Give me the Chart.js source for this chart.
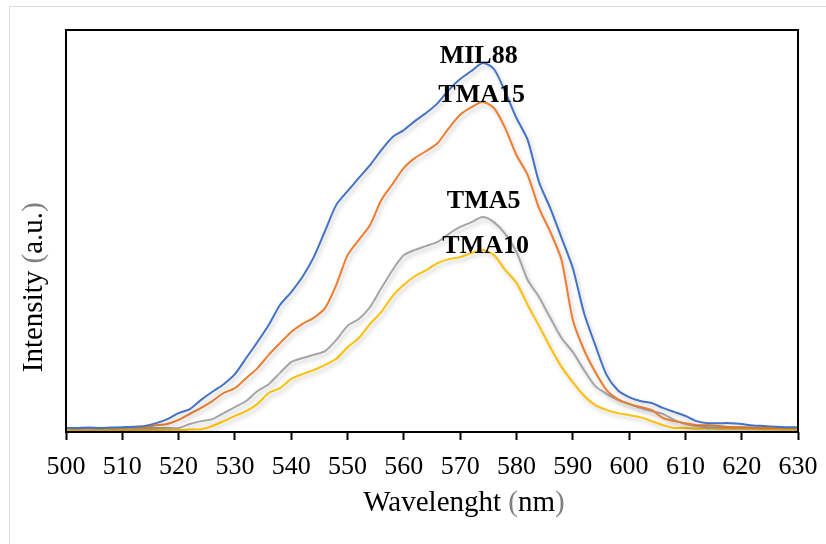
<!DOCTYPE html>
<html>
<head>
<meta charset="utf-8">
<script src="https://cdn.jsdelivr.net/npm/chart.js@4.4.1/dist/chart.umd.min.js"></script>
<style>
	html, body { margin: 0; padding: 0; background: #fff; }
	#wrap { position: relative; width: 826px; height: 544px; overflow: hidden; }
	#frame { position: absolute; left: 9px; top: 6px; width: 900px; height: 600px; border-left: 1.5px solid #dadada; border-top: 1.5px solid #dadada; }
	#chart { position: absolute; left: 0; top: 0; }
</style>
</head>
<body>
<div id="wrap">
	<div id="frame"></div>
	<canvas id="chart" width="826" height="544"></canvas>
</div>
<script>
/* global Chart */

// Longitudes de onda (nm)
const wavelengths = [
	500, 502, 504, 506, 508, 510, 512, 514, 516, 518,
	520, 522, 524, 526, 528, 530, 532, 534, 536, 538,
	540, 542, 544, 546, 548, 550, 552, 554, 556, 558,
	560, 562, 564, 566, 568, 570, 572, 574, 576, 578,
	580, 582, 584, 586, 588, 590, 592, 594, 596, 598,
	600, 602, 604, 606, 608, 610, 612, 614, 616, 618,
	620, 622, 624, 626, 628, 630
];

const mil88 = [
	1.0, 1.0, 1.1, 1.0, 1.1, 1.2, 1.3, 1.5, 2.2, 3.2,
	4.7, 5.7, 8.0, 10.0, 11.9, 14.4, 18.4, 22.4, 26.6, 31.6,
	34.8, 38.6, 43.5, 50.0, 56.5, 59.9, 63.2, 66.4, 70.1, 73.4,
	75.1, 77.4, 79.4, 81.8, 85.1, 87.8, 89.8, 91.8, 90.3, 84.6,
	78.1, 72.6, 62.2, 55.7, 48.3, 40.8, 29.6, 21.6, 14.2, 10.4,
	8.7, 7.7, 7.2, 6.0, 5.0, 4.0, 2.7, 2.2, 2.2, 2.2,
	2.0, 1.6, 1.5, 1.3, 1.2, 1.2
];

const tma15 = [
	1.0, 0.9, 1.0, 1.0, 1.0, 1.0, 1.2, 1.2, 1.7, 2.0,
	3.0, 4.5, 6.0, 7.7, 9.7, 10.9, 13.4, 15.9, 19.2, 22.1,
	24.9, 26.9, 28.4, 30.8, 36.6, 44.0, 47.8, 51.5, 57.7, 61.7,
	65.7, 68.2, 69.9, 71.9, 75.6, 78.9, 80.8, 82.1, 80.6, 75.6,
	68.9, 63.9, 55.7, 49.8, 42.8, 27.9, 20.4, 14.9, 10.4, 8.2,
	7.0, 6.2, 5.5, 3.5, 2.7, 2.2, 1.7, 1.7, 1.5, 1.2,
	1.2, 1.0, 1.0, 1.0, 1.0, 1.0
];

const tma5 = [
	0.9, 0.9, 0.8, 0.9, 0.9, 0.9, 1.0, 1.0, 1.0, 1.0,
	1.0, 2.0, 2.7, 3.2, 4.7, 6.2, 7.7, 10.2, 11.9, 14.7,
	17.4, 18.4, 19.2, 20.1, 22.9, 26.4, 28.1, 31.1, 35.8, 40.3,
	44.0, 45.3, 46.3, 47.3, 49.3, 51.0, 52.2, 53.5, 52.2, 49.3,
	44.8, 37.8, 33.6, 28.4, 23.4, 19.9, 15.4, 11.4, 9.5, 8.0,
	7.0, 6.0, 5.2, 4.5, 3.0, 2.0, 1.5, 1.2, 1.1, 1.1,
	1.1, 1.1, 1.1, 1.0, 1.0, 1.0
];

const tma10 = [
	0.5, 0.5, 0.4, 0.5, 0.5, 0.5, 0.5, 0.5, 0.5, 0.5,
	0.5, 0.6, 0.7, 1.5, 2.7, 4.0, 5.2, 7.0, 9.7, 10.9,
	13.2, 14.4, 15.4, 16.7, 18.2, 21.1, 23.4, 26.9, 29.9, 33.8,
	36.6, 38.8, 40.3, 42.0, 43.0, 43.5, 44.5, 45.3, 44.0, 40.3,
	37.1, 31.6, 26.4, 21.1, 16.2, 12.4, 9.0, 6.7, 5.5, 4.7,
	4.2, 3.7, 2.7, 1.7, 1.0, 1.0, 0.9, 0.9, 0.8, 0.8,
	0.8, 0.8, 0.7, 0.7, 0.6, 0.6
];

const seriesNames = ['MIL88', 'TMA15', 'TMA5', 'TMA10'];
const seriesValues = [mil88, tma15, tma5, tma10];
const seriesColors = ['#4472C4', '#ED7D31', '#A5A5A5', '#FFC000'];

const serif = "'Liberation Serif', 'Times New Roman', serif";

// Caja del área de gráfico, sombra de líneas, títulos y etiquetas
const decorations = {
	id: 'decorations',
	beforeDatasetsDraw(chart) {
		const ctx = chart.ctx;
		ctx.save();
		ctx.shadowColor = 'rgba(0, 0, 0, 0.22)';
		ctx.shadowBlur = 4;
		ctx.shadowOffsetX = 2;
		ctx.shadowOffsetY = 3;
	},
	afterDatasetsDraw(chart, args, opts) {
		const ctx = chart.ctx;
		ctx.restore();

		const area = chart.chartArea;

		ctx.save();
		ctx.strokeStyle = '#000';
		ctx.lineWidth = 2;
		ctx.strokeRect(area.left, area.top, area.right - area.left, area.bottom - area.top);

		// Etiquetas sobre cada pico
		ctx.font = 'bold 26px ' + serif;
		ctx.fillStyle = '#000';
		ctx.textAlign = 'center';
		ctx.textBaseline = 'alphabetic';
		chart.data.datasets.forEach((ds, i) => {
			const meta = chart.getDatasetMeta(i);
			let best = 0;
			ds.data.forEach((p, j) => {
				if (p.y > ds.data[best].y) best = j;
			});
			const pt = meta.data[best];
			const off = opts.labelOffsets[i];
			ctx.fillText(ds.label, pt.x + off[0], pt.y + off[1]);
		});

		// Títulos de los ejes
		ctx.font = '29px ' + serif;
		ctx.textBaseline = 'middle';
		drawParts(ctx, ['Wavelenght ', '(', 'nm', ')'], (area.left + area.right) / 2 + 32, area.bottom + 71);

		ctx.translate(area.left - 32, area.top + (area.bottom - area.top) * 0.64);
		ctx.rotate(-Math.PI / 2);
		drawParts(ctx, ['Intensity ', '(', 'a.u.', ')'], 0, 0);
		ctx.restore();
	}
};

function drawParts(ctx, parts, cx, cy) {
	const total = parts.reduce((s, t) => s + ctx.measureText(t).width, 0);
	let x = cx - total / 2;
	ctx.textAlign = 'left';
	parts.forEach((t) => {
		ctx.fillStyle = (t === '(' || t === ')') ? '#808080' : '#000';
		ctx.fillText(t, x, cy);
		x += ctx.measureText(t).width;
	});
	ctx.textAlign = 'center';
}

const data = {
	datasets: seriesNames.map((name, i) => ({
		label: name,
		data: seriesValues[i].map((v, j) => ({ x: wavelengths[j], y: v })),
		borderColor: seriesColors[i],
		backgroundColor: seriesColors[i],
		borderWidth: 2,
		pointRadius: 0,
		tension: 0.25,
		fill: false
	}))
};

const config = {
	type: 'line',
	data: data,
	options: {
		responsive: false,
		animation: false,
		layout: { padding: { top: 30, right: 28, left: 0, bottom: 0 } },
		plugins: {
			legend: { display: false },
			tooltip: { enabled: false },
			decorations: {
				labelOffsets: [[-4, 0], [-1, 0], [1, -9], [3, 3]]
			}
		},
		scales: {
			x: {
				type: 'linear',
				min: 500,
				max: 630,
				afterFit: (scale) => {
					scale.height = 112;
					scale.paddingLeft = 0;
					scale.paddingRight = 0;
				},
				ticks: {
					stepSize: 10,
					autoSkip: false,
					maxRotation: 0,
					color: '#000',
					padding: 12,
					font: { family: serif, size: 26 }
				},
				grid: {
					drawOnChartArea: false,
					drawTicks: true,
					tickLength: 8,
					tickWidth: 2,
					tickColor: '#000'
				},
				border: { display: false }
			},
			y: {
				min: 0,
				max: 100,
				afterFit: (scale) => { scale.width = 66; },
				ticks: { display: false },
				grid: { display: false },
				border: { display: false }
			}
		}
	},
	plugins: [decorations]
};

const canvas = document.getElementById('chart');
const graph = new Chart(canvas, config);
</script>
</body>
</html>
